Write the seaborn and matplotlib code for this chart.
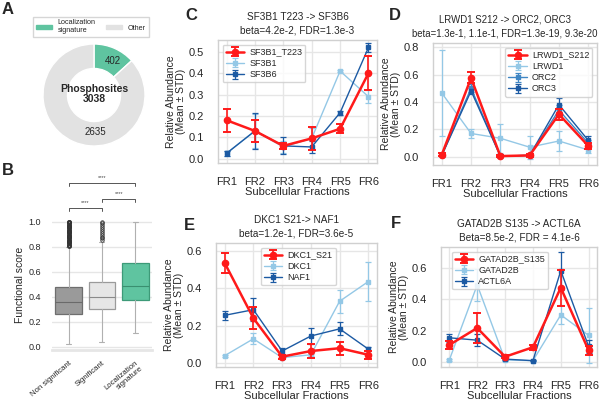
import numpy as np
import pandas as pd
import matplotlib
matplotlib.use("Agg")
import matplotlib.pyplot as plt
import matplotlib.patches as mpatches
import seaborn as sns

# ---- data ----
fractions = ["FR1", "FR2", "FR3", "FR4", "FR5", "FR6"]

pie_labels = ["Localization\nsignature", "Other"]
pie_values = [402, 2635]
pie_total = 3038

box_groups = ["Non significant", "Significant", "Localization\nsignature"]
box_q1 = [0.265, 0.30, 0.37]
box_med = [0.36, 0.40, 0.485]
box_q3 = [0.48, 0.52, 0.67]
box_wlo = [0.02, 0.04, 0.11]
box_whi = [0.80, 0.84, 1.0]
fliers_nonsig = [0.805, 0.815, 0.825, 0.835, 0.845, 0.855, 0.865, 0.875, 0.885,
                 0.895, 0.905, 0.915, 0.925, 0.935, 0.945, 0.955, 0.965, 0.975,
                 0.985, 0.995, 1.0]
fliers_sig = [0.85, 0.865, 0.88, 0.895, 0.91, 0.925, 0.94, 0.955, 0.97, 0.985, 1.0]
fliers_loc = []

# C
c_names = ["SF3B1_T223", "SF3B1", "SF3B6"]
c_mean = [[0.18, 0.13, 0.06, 0.095, 0.14, 0.40],
          [0.025, 0.13, 0.055, 0.095, 0.41, 0.29],
          [0.025, 0.13, 0.06, 0.055, 0.215, 0.52]]
c_std = [[0.053, 0.05, 0.015, 0.055, 0.02, 0.08],
         [0.01, 0.08, 0.03, 0.05, 0.005, 0.03],
         [0.01, 0.083, 0.04, 0.03, 0.01, 0.02]]

# D
d_names = ["LRWD1_S212", "LRWD1", "ORC2", "ORC3"]
d_mean = [[0.015, 0.575, 0.005, 0.01, 0.31, 0.08],
          [0.465, 0.17, 0.135, 0.07, 0.115, 0.05],
          [0.01, 0.50, 0.005, 0.01, 0.34, 0.10],
          [0.01, 0.48, 0.005, 0.01, 0.38, 0.12]]
d_std = [[0.01, 0.04, 0.005, 0.01, 0.04, 0.02],
         [0.315, 0.03, 0.105, 0.085, 0.07, 0.025],
         [0.005, 0.03, 0.005, 0.005, 0.04, 0.025],
         [0.005, 0.02, 0.005, 0.005, 0.05, 0.03]]

# E
e_names = ["DKC1_S21", "DKC1", "NAF1"]
e_mean = [[0.534, 0.24, 0.035, 0.065, 0.08, 0.045],
          [0.04, 0.13, 0.03, 0.045, 0.33, 0.435],
          [0.255, 0.285, 0.065, 0.145, 0.183, 0.075]]
e_std = [[0.053, 0.06, 0.01, 0.035, 0.035, 0.02],
         [0.005, 0.03, 0.005, 0.005, 0.06, 0.105],
         [0.025, 0.06, 0.015, 0.045, 0.035, 0.01]]

# F
f_names = ["GATAD2B_S135", "GATAD2B", "ACTL6A"]
f_mean = [[0.11, 0.217, 0.035, 0.095, 0.472, 0.075],
          [0.015, 0.49, 0.015, 0.01, 0.30, 0.17],
          [0.155, 0.14, 0.02, 0.01, 0.58, 0.10]]
f_std = [[0.025, 0.095, 0.01, 0.015, 0.115, 0.03],
         [0.005, 0.10, 0.005, 0.005, 0.06, 0.175],
         [0.025, 0.04, 0.005, 0.005, 0.12, 0.04]]

RED = "#ff1a1a"
LIGHT = "#94c8e6"
MID = "#3f86c4"
DARK = "#1c5aa3"
GREEN = "#5fc4a0"

sns.set_theme(style="whitegrid")
plt.rcParams["font.family"] = ["Liberation Sans", "DejaVu Sans"]
plt.rcParams["axes.edgecolor"] = "#d0d0d0"
plt.rcParams["grid.color"] = "#e6e6e6"

fig = plt.figure(figsize=(6, 4), dpi=100)


def box(l, t, r, b):
    return [l / 600, 1 - b / 400, (r - l) / 600, (b - t) / 400]


# ---- A: donut ----
axA = fig.add_axes(box(43, 44, 145, 146))
axA.pie(pie_values, colors=[GREEN, "#e2e2e2"], startangle=90, counterclock=False,
        wedgeprops=dict(width=0.48, edgecolor="white", linewidth=1))
axA.set_xlim(-1.0, 1.0)
axA.set_ylim(-1.0, 1.0)
axA.set_aspect("equal")
axA.text(0.37, 0.67, str(pie_values[0]), ha="center", va="center", fontsize=7)
axA.text(0.02, -0.72, str(pie_values[1]), ha="center", va="center", fontsize=7)
axA.text(0, 0.02, "Phosphosites\n%d" % pie_total, ha="center", va="center",
         fontsize=7.5, fontweight="bold", linespacing=1.0)
fig.legend(handles=[mpatches.Patch(color=GREEN, label=pie_labels[0]),
                    mpatches.Patch(color="#e2e2e2", label=pie_labels[1])],
           ncol=2, loc="center", bbox_to_anchor=(91 / 600, 1 - 27 / 400),
           fontsize=5.2, frameon=True, handlelength=2.2, handleheight=0.6,
           columnspacing=1.5, borderpad=0.4, fancybox=False)

# ---- B: boxplot ----
axB = fig.add_axes(box(52, 219, 152, 350))
stats = []
all_fliers = [fliers_nonsig, fliers_sig, fliers_loc]
for i in range(3):
    stats.append(dict(med=box_med[i], q1=box_q1[i], q3=box_q3[i],
                      whislo=box_wlo[i], whishi=box_whi[i], fliers=all_fliers[i]))
edge_cols = ["#6e6e6e", "#9a9a9a", "#3d9a78"]
face_cols = ["#9a9a9a", "#e6e6e6", GREEN]
med_cols = ["#6a6a6a", "#8a8a8a", "#3a8f70"]
bp = axB.bxp(stats, positions=[0, 1, 2], widths=0.8, patch_artist=True,
             boxprops=dict(linewidth=0.9),
             medianprops=dict(color="#707070", linewidth=0.8),
             whiskerprops=dict(color="#b0b0b0", linewidth=0.8),
             capprops=dict(color="#b0b0b0", linewidth=0.8),
             capwidths=0.15,
             flierprops=dict(marker="o", markersize=2.5, markerfacecolor="none",
                             markeredgecolor="#333333", markeredgewidth=0.6))
for patch, fc, ec in zip(bp["boxes"], face_cols, edge_cols):
    patch.set_facecolor(fc)
    patch.set_edgecolor(ec)
for med, mc in zip(bp["medians"], med_cols):
    med.set_color(mc)
bp["fliers"][0].set_markeredgewidth(1.0)
axB.set_ylim(-0.025, 1.02)
axB.set_xlim(-0.5, 2.5)
axB.set_yticks([0, 0.2, 0.4, 0.6, 0.8, 1.0])
axB.set_xticks([0, 1, 2])
axB.set_xticklabels(box_groups, rotation=40, ha="right", rotation_mode="anchor",
                    fontsize=5.6, linespacing=1.0)
axB.tick_params(axis="y", labelsize=6.5, pad=2)
axB.tick_params(axis="x", pad=1)
axB.set_ylabel("Functional score", fontsize=7.5, labelpad=2)
axB.grid(axis="x", visible=False)
for s in ["top", "right", "left"]:
    axB.spines[s].set_visible(False)
axB.spines["bottom"].set_color("#e6e6e6")
axB.spines["bottom"].set_linewidth(2)


def bracket(ax, x1, x2, y, text):
    h = 0.025
    ax.plot([x1, x1, x2, x2], [y - h, y, y, y - h], color="#555555", lw=0.7,
            clip_on=False)
    ax.text((x1 + x2) / 2, y + 0.02, text, ha="center", va="bottom",
            fontsize=4, color="#444444")


bracket(axB, 0, 1, 1.11, "****")
bracket(axB, 1, 2, 1.18, "****")
bracket(axB, 0, 2, 1.31, "****")


# ---- line panels ----
def line_panel(ax, names, means, stds, colors, title, ylim, yticks, legloc,
               bbox=None, title_x=0.5, title_size=7.2):
    x = np.arange(len(fractions))
    for i, nm in enumerate(names):
        if i == 0:
            ax.errorbar(x, means[i], yerr=stds[i], color=colors[i], lw=1.8,
                        marker="o", markersize=4.5, capsize=3, capthick=1.4,
                        elinewidth=1.2, label=nm, zorder=5)
        else:
            ax.errorbar(x, means[i], yerr=stds[i], color=colors[i], lw=1.0,
                        marker="s", markersize=2.8, capsize=2.5, capthick=0.9,
                        elinewidth=0.9, label=nm, zorder=3 + i * 0.1)
    ax.set_xticks(x)
    ax.set_xticklabels(fractions)
    ax.set_xlim(-0.3, 5.3)
    ax.set_ylim(*ylim)
    ax.set_yticks(yticks)
    ax.tick_params(labelsize=8, pad=4)
    ax.set_xlabel("Subcellular Fractions", fontsize=8, labelpad=0)
    ax.set_ylabel("Relative Abundance\n(Mean ± STD)", fontsize=7.5, labelpad=2,
                  linespacing=1.0)
    ax.set_title(title, fontsize=title_size, pad=5, linespacing=1.4, x=title_x)
    for s in ax.spines.values():
        s.set_color("#d0d0d0")
        s.set_linewidth(1.0)
    kw = dict(fontsize=6.5, frameon=True, handlelength=2.0, borderpad=0.35,
              labelspacing=0.25, handletextpad=0.6, fancybox=True)
    if bbox is not None:
        ax.legend(loc=legloc, bbox_to_anchor=bbox, **kw)
    else:
        ax.legend(loc=legloc, **kw)


axC = fig.add_axes(box(218, 40, 377, 163))
line_panel(axC, c_names, c_mean, c_std, [RED, LIGHT, DARK],
           "SF3B1 T223 -> SF3B6\nbeta=4.2e-2, FDR=1.3e-3",
           (-0.02, 0.555), [0, 0.1, 0.2, 0.3, 0.4, 0.5], "upper left")

axD = fig.add_axes(box(433, 43, 597, 165))
line_panel(axD, d_names, d_mean, d_std, [RED, LIGHT, MID, DARK],
           "LRWD1 S212 -> ORC2, ORC3\nbeta=1.3e-1, 1.1e-1, FDR=1.3e-19, 9.3e-20",
           (-0.06, 0.83), [0, 0.2, 0.4, 0.6, 0.8], "upper right", title_x=0.44,
           title_size=6.9)

axE = fig.add_axes(box(216, 243, 377, 367))
line_panel(axE, e_names, e_mean, e_std, [RED, LIGHT, DARK],
           "DKC1 S21-> NAF1\nbeta=1.2e-1, FDR=3.6e-5",
           (-0.02, 0.64), [0, 0.2, 0.4, 0.6], "upper center", (0.51, 1.0))

axF = fig.add_axes(box(441, 247, 597, 367))
line_panel(axF, f_names, f_mean, f_std, [RED, LIGHT, DARK],
           "GATAD2B S135 -> ACTL6A\nBeta=8.5e-2, FDR = 4.1e-6",
           (-0.03, 0.73), [0, 0.2, 0.4, 0.6], "upper left", (0.04, 1.0))

# ---- panel letters ----
for lab, (px, py) in {"A": (2, 10), "B": (2, 170), "C": (185, 15), "D": (389, 15),
                      "E": (184, 225), "F": (391, 223)}.items():
    fig.text(px / 600, 1 - py / 400, lab, fontsize=12, fontweight="bold",
             ha="left", va="center")

fig.savefig("out.png", dpi=100)
